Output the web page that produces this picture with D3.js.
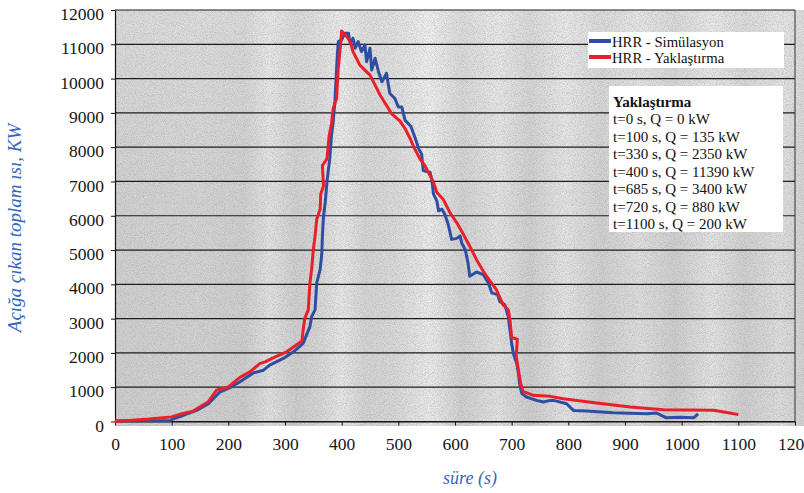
<!DOCTYPE html>
<html>
<head>
<meta charset="utf-8">
<script src="https://cdn.jsdelivr.net/npm/d3@7.9.0/dist/d3.min.js"></script>
<style>
  html, body { margin: 0; padding: 0; background: #fff; }
  svg { display: block; }
</style>
</head>
<body>
<svg id="chart" width="804" height="493"></svg>
<script>
// HRR simulation curve (time in s, heat release in kW)
const simTime = [0, 97, 103, 120, 144, 165, 185, 203, 220, 244, 262, 273, 297, 315, 332, 344, 347, 353, 356, 362,
  365, 366, 368, 371, 374, 376, 379, 382, 385, 388, 392, 394, 400, 406, 412, 415, 420, 424, 429, 435,
  441, 444, 450, 453, 459, 465, 471, 479, 485, 494, 500, 506, 512, 522, 530, 536, 541, 544, 556, 559,
  562, 568, 571, 577, 582, 588, 594, 603, 609, 612, 618, 623, 626, 638, 650, 659, 665, 675, 679, 688,
  694, 697, 700, 703, 709, 712, 714, 718, 726, 744, 756, 768, 774, 797, 809, 832, 879, 938, 956, 973,
  997, 1021, 1029];
const simHrr = [20, 20, 79, 176, 323, 519, 860, 988, 1153, 1417, 1496, 1643, 1840, 2033, 2280, 2767, 3060, 3257, 4040, 4430,
  4920, 5407, 5994, 6387, 6973, 7267, 7657, 8341, 8734, 9320, 10592, 11080, 11130, 11325, 11325, 11031, 11178, 10885, 11080, 10787,
  10983, 10494, 10885, 10249, 10592, 10200, 9907, 10151, 9565, 9418, 9174, 9174, 8780, 8610, 8250, 7950, 7804, 7315, 7267, 7071,
  6631, 6435, 6142, 6191, 6044, 5751, 5311, 5340, 5407, 5200, 5017, 4627, 4235, 4360, 4284, 4040, 3750, 3700, 3500, 3403,
  3060, 2670, 2280, 1986, 1693, 1400, 1106, 812, 714, 616, 567, 616, 616, 518, 323, 303, 254, 225, 245, 108,
  127, 108, 225];

// HRR approximation curve
const fitTime = [0, 60, 100, 118, 138, 164, 179, 200, 220, 238, 256, 265, 277, 303, 330, 332, 335, 341, 344, 347,
  350, 353, 356, 362, 363, 368, 366, 374, 378, 382, 385, 391, 394, 397, 400, 409, 415, 420, 426, 432,
  438, 450, 459, 468, 479, 488, 503, 512, 521, 526, 538, 547, 562, 568, 579, 591, 603, 615, 626, 638,
  650, 662, 673, 685, 688, 694, 697, 700, 710, 708, 712, 716, 720, 738, 768, 791, 850, 909, 968, 1056,
  1085, 1100];
const fitHrr = [0, 70, 135, 225, 303, 566, 910, 1006, 1282, 1447, 1693, 1740, 1840, 2033, 2350, 2670, 3013, 3257, 4040, 4430,
  5017, 5407, 5897, 6190, 6630, 6874, 7461, 7657, 8341, 8685, 9125, 9418, 10298, 10787, 11390, 11227, 11080, 10787, 10592, 10396,
  10298, 10102, 9809, 9515, 9222, 8978, 8760, 8538, 8245, 8048, 7657, 7461, 6974, 6680, 6484, 6094, 5800, 5450, 5110, 4720,
  4380, 4090, 3843, 3400, 3353, 3257, 2963, 2450, 2400, 1900, 1496, 1106, 880, 763, 733, 665, 538, 420, 342, 330,
  250, 200];

// breakpoints of the approximation
const bpTime = [0, 100, 330, 400, 685, 720, 1100];
const bpHrr = [0, 135, 2350, 11390, 3400, 880, 200];

const xTicks = d3.range(0, 1201, 100);
const yTicks = d3.range(0, 12001, 1000);

const seriesNames = ["HRR - Simülasyon", "HRR - Yaklaştırma"];
const seriesColors = ["#2f4ea3", "#e8202a"];

const serif = "'Liberation Serif', 'DejaVu Serif', serif";

const svg = d3.select("#chart");
const x = d3.scaleLinear().domain([0, 1200]).range([115, 795]);
const y = d3.scaleLinear().domain([0, 12000]).range([421.5, 10]);

// scanned paper look: grey stripes + grain
const defs = svg.append("defs");
const stripes = defs.append("linearGradient").attr("id", "stripes")
  .attr("gradientUnits", "userSpaceOnUse")
  .attr("x1", 115).attr("x2", 804).attr("y1", 0).attr("y2", 0);
[[115, "#cfcfcf"], [200, "#d2d2d2"], [245, "#cdcdcd"], [270, "#e2e2e2"], [295, "#cecece"], [318, "#d6d6d6"],
 [342, "#e8e8e8"], [365, "#d4d4d4"], [395, "#d9d9d9"], [430, "#ececec"], [462, "#d0d0d0"], [498, "#e3e3e3"],
 [530, "#cdcdcd"], [565, "#e4e4e4"], [600, "#cfcfcf"], [640, "#dedede"], [675, "#cdcdcd"], [712, "#e3e3e3"],
 [745, "#cfcfcf"], [780, "#dedede"], [804, "#d2d2d2"]]
  .forEach(([px, c]) => stripes.append("stop").attr("offset", (px - 115) / (804 - 115)).attr("stop-color", c));

const fade = defs.append("linearGradient").attr("id", "fade")
  .attr("x1", 0).attr("x2", 0).attr("y1", 0).attr("y2", 1);
fade.append("stop").attr("offset", 0).attr("stop-color", "#fff").attr("stop-opacity", 0.3);
fade.append("stop").attr("offset", 0.4).attr("stop-color", "#fff").attr("stop-opacity", 0.08);
fade.append("stop").attr("offset", 1).attr("stop-color", "#fff").attr("stop-opacity", 0);

const grain = defs.append("filter").attr("id", "grain")
  .attr("x", 0).attr("y", 0).attr("width", 1).attr("height", 1);
grain.append("feTurbulence").attr("type", "fractalNoise").attr("baseFrequency", 1.1)
  .attr("numOctaves", 1).attr("seed", 7);
grain.append("feColorMatrix").attr("type", "matrix")
  .attr("values", "0 0 0 0 0.3  0 0 0 0 0.3  0 0 0 0 0.3  1.8 0 0 0 -0.7");

const bg = svg.append("g");
bg.append("rect").attr("x", 115).attr("y", 10).attr("width", 689).attr("height", 416).attr("fill", "url(#stripes)");
bg.append("rect").attr("x", 115).attr("y", 10).attr("width", 689).attr("height", 416).attr("fill", "url(#fade)");
bg.append("rect").attr("x", 115).attr("y", 10).attr("width", 689).attr("height", 416)
  .attr("filter", "url(#grain)").attr("opacity", 0.6);

// horizontal grid
svg.append("g").selectAll("line").data(yTicks).join("line")
  .attr("x1", x(0)).attr("x2", x(1200))
  .attr("y1", d => y(d)).attr("y2", d => y(d))
  .attr("stroke", "#1c1c1c").attr("stroke-width", 1.2);

// right frame
svg.append("line").attr("x1", x(1200)).attr("x2", x(1200)).attr("y1", y(12000)).attr("y2", y(0))
  .attr("stroke", "#333").attr("stroke-width", 1);

// axes
const yAxis = svg.append("g").attr("transform", `translate(${x(0)},0)`)
  .call(d3.axisLeft(y).tickValues(yTicks).tickSize(4).tickSizeOuter(0).tickPadding(7).tickFormat(d3.format("d")));
yAxis.selectAll("text").attr("dy", "0.55em");

const xAxis = svg.append("g").attr("transform", `translate(0,${y(0)})`)
  .call(d3.axisBottom(x).tickValues(xTicks).tickSize(4).tickSizeOuter(0).tickPadding(12).tickFormat(d3.format("d")));

[yAxis, xAxis].forEach(a => {
  a.attr("font-family", serif).attr("font-size", 17.5);
  a.selectAll(".tick text").attr("font-family", serif).attr("font-size", 17.5).attr("fill", "#151515");
  a.select(".domain").attr("stroke", "#111").attr("stroke-width", 1.2);
  a.selectAll(".tick line").attr("stroke", "#111");
});

// curves
const line = d3.line().x(d => x(d[0])).y(d => y(d[1]));
const simData = simTime.map((t, i) => [t, simHrr[i]]);
const fitData = fitTime.map((t, i) => [t, fitHrr[i]]);

svg.append("path").datum(simData).attr("d", line)
  .attr("fill", "none").attr("stroke", seriesColors[0]).attr("stroke-width", 3).attr("stroke-linejoin", "round");
svg.append("path").datum(fitData).attr("d", line)
  .attr("fill", "none").attr("stroke", seriesColors[1]).attr("stroke-width", 3).attr("stroke-linejoin", "round");

// axis titles
svg.append("text").attr("transform", "translate(21,228) rotate(-90)")
  .attr("text-anchor", "middle").attr("font-family", serif).attr("font-style", "italic")
  .attr("font-size", 19).attr("fill", "#3466bd").text("Açığa çıkan toplam ısı, KW");
svg.append("text").attr("x", 470).attr("y", 484)
  .attr("text-anchor", "middle").attr("font-family", serif).attr("font-style", "italic")
  .attr("font-size", 18).attr("fill", "#3466bd").text("süre (s)");

// legend
const legend = svg.append("g");
legend.append("rect").attr("x", 588).attr("y", 32).attr("width", 196).attr("height", 36).attr("fill", "#fff");
seriesNames.forEach((name, i) => {
  const ly = 41 + i * 16;
  legend.append("line").attr("x1", 589).attr("x2", 611).attr("y1", ly).attr("y2", ly)
    .attr("stroke", seriesColors[i]).attr("stroke-width", 4);
  legend.append("text").attr("x", 612).attr("y", ly + 5.5)
    .attr("font-family", serif).attr("font-size", 14.7).attr("fill", "#111").text(name);
});

// approximation breakpoints box
const box = svg.append("g");
box.append("rect").attr("x", 609).attr("y", 86).attr("width", 174).attr("height", 146).attr("fill", "#fff");
box.append("text").attr("x", 613).attr("y", 106.5)
  .attr("font-family", serif).attr("font-weight", "bold").attr("font-size", 15).attr("fill", "#111")
  .text("Yaklaştırma");
bpTime.forEach((t, i) => {
  box.append("text").attr("x", 613).attr("y", 124.3 + i * 17.5)
    .attr("font-family", serif).attr("font-size", 15).attr("fill", "#111")
    .text(`t=${t} s, Q = ${bpHrr[i]} kW`);
});
</script>
</body>
</html>
